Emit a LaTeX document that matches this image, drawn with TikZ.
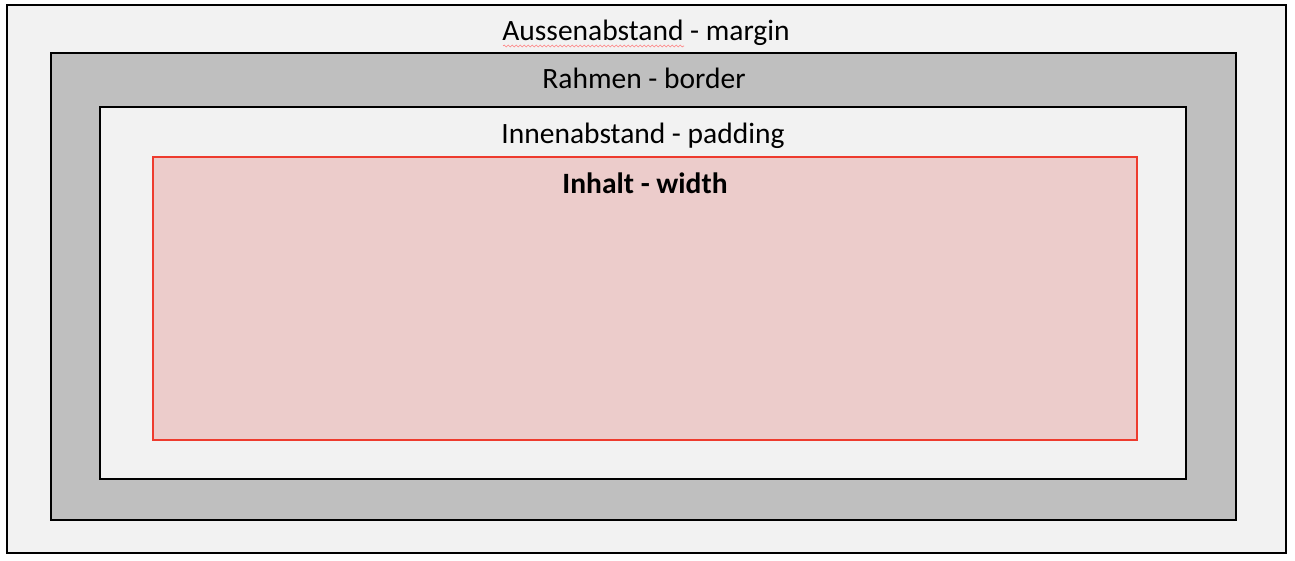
\documentclass[tikz,border=0pt]{standalone}
\usepackage{fontspec}
\setmainfont{Carlito}
\usepackage{xcolor}
\usetikzlibrary{decorations.pathmorphing}

\definecolor{hellgrau}{HTML}{F2F2F2}
\definecolor{rahmengrau}{HTML}{BFBFBF}
\definecolor{inhaltrosa}{HTML}{ECCCCB}
\definecolor{inhaltrot}{HTML}{EE3B2E}

\tikzset{
  boxlabel/.style={font=\fontsize{29.5}{34}\selectfont, inner sep=0pt, anchor=base}
}

\begin{document}
\begin{tikzpicture}[x=1pt, y=-1pt]
            \useasboundingbox (0, 0) rectangle (1295, 560);

            \draw[line width=2pt, fill=hellgrau] (7, 5) rectangle (1286, 553); % margin
            \draw[line width=2pt, fill=rahmengrau] (51, 53) rectangle (1236, 520); % border
            \draw[line width=2pt, fill=hellgrau] (100, 107) rectangle (1186, 479); % padding
            \draw[line width=1.5pt, draw=inhaltrot, fill=inhaltrosa] (153, 157) rectangle (1137, 440); % content

            \node[boxlabel] (margin) at (646, 40) {Aussenabstand - margin};
            \node[boxlabel] (border) at (644, 88) {Rahmen - border};
            \node[boxlabel] (padding) at (643, 143) {Innenabstand - padding};
            \node[boxlabel, font=\fontsize{29.5}{34}\selectfont\bfseries] (inhalt) at (645, 193) {Inhalt - width};

            \draw[red!50, line width=0.6pt, decorate,
                  decoration={snake, amplitude=1pt, segment length=4pt}]
                  (503, 46) -- (684, 46); % Rechtschreibung
        \end{tikzpicture}
\end{document}
